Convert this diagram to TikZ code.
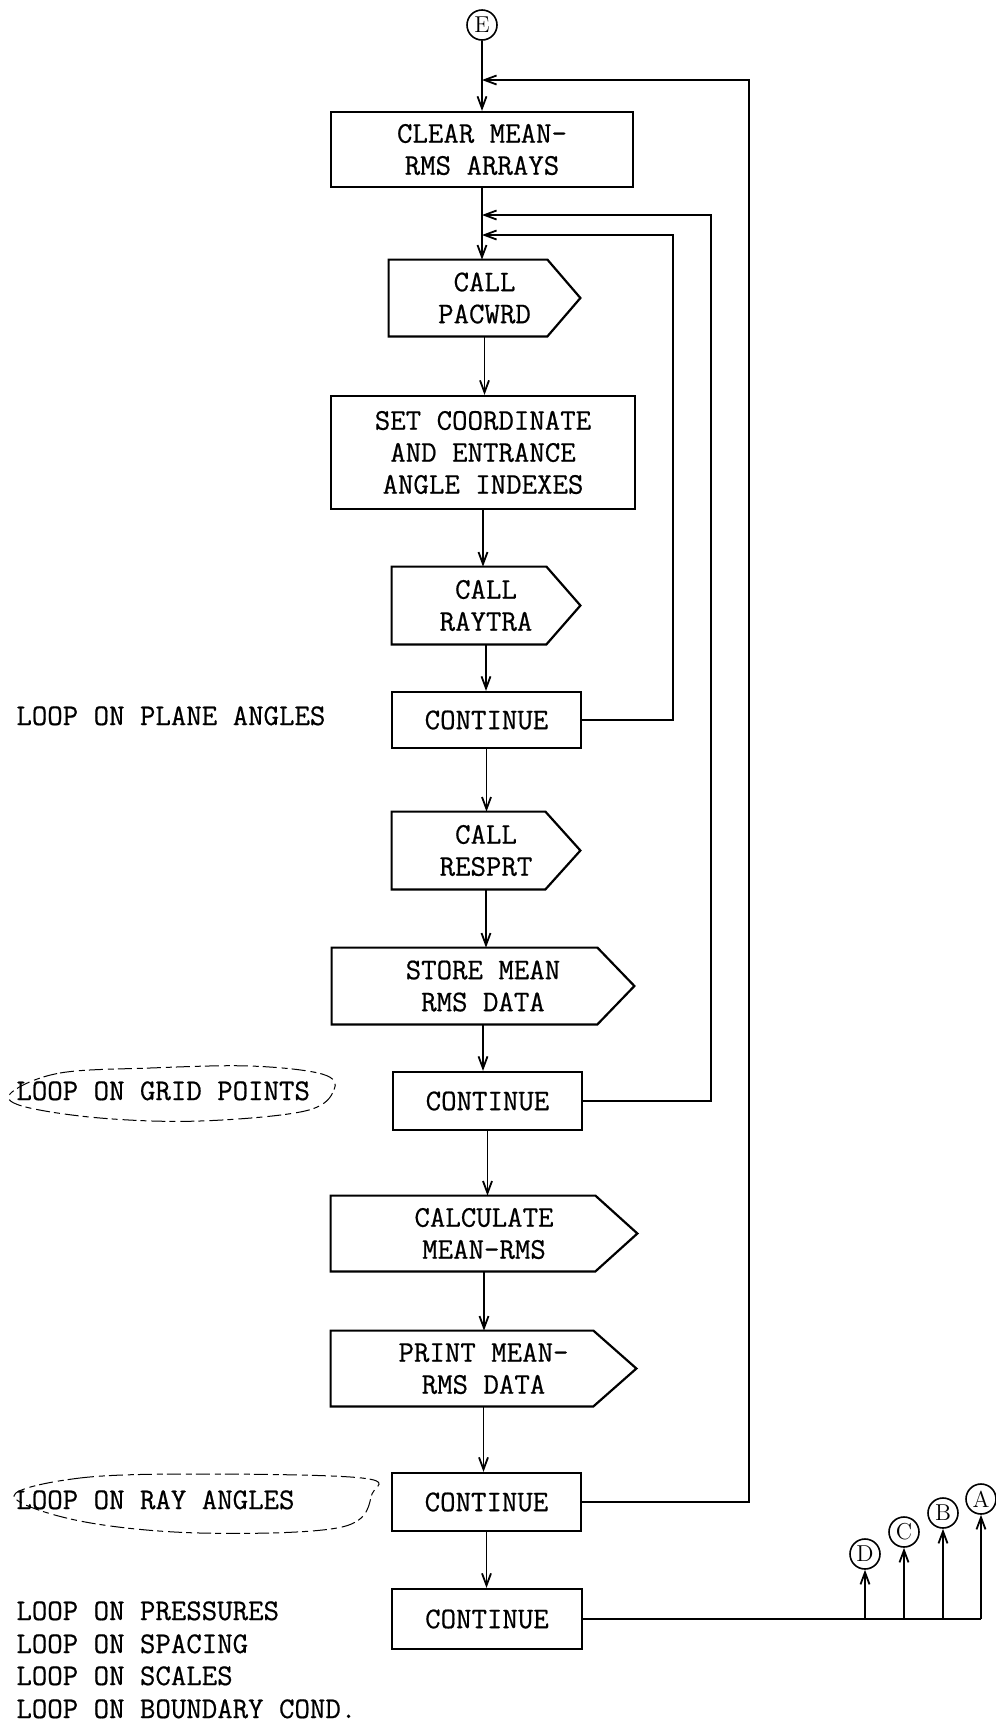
\documentclass[tikz,border=0pt]{standalone}
\usepackage{fontspec}
\setmonofont{Latin Modern Mono}[FakeBold=0.6]
\usetikzlibrary{arrows.meta,calc}
\newcommand\tw{\ttfamily\fontsize{15}{16}\selectfont}
\newcommand\pentline[2]{\draw[line width=1.1pt] (#1.north west) -- ([xshift=-#2]#1.north east) -- (#1.east) -- ([xshift=-#2]#1.south east) -- (#1.south west) -- cycle;}
\tikzset{
  box/.style={draw, line width=1.1pt, rectangle, inner sep=0pt, font=\tw, align=center},
  pent/.style={rectangle, inner sep=0pt, font=\tw, align=center},
  conn/.style={line width=0.9pt, -{Straight Barb[length=6pt,width=4.5pt]}},
  plain/.style={line width=0.9pt},
  con/.style={circle, draw, line width=0.8pt, minimum size=15pt, inner sep=0pt, font=\rmfamily\fontsize{11.5}{11.5}\selectfont},
  lbl/.style={anchor=base west, font=\tw, inner sep=0pt},
  scrib/.style={line width=0.5pt, dash pattern=on 7pt off 2.5pt on 3pt off 2pt},
}
\begin{document}
\begin{tikzpicture}[x=0.5pt,y=-0.5pt]
\useasboundingbox (0,0) rectangle (996,1725);
% nodes
\node[con] (E) at (482,25) {E};
\node[box, minimum width=151pt, minimum height=37.5pt] (clear) at (482,149.5) {CLEAR MEAN-\\RMS ARRAYS};
\node[pent, minimum width=95.5pt, minimum height=38pt] (pacwrd) at (484.5,298) {CALL\\PACWRD};
\node[box, minimum width=152pt, minimum height=56.5pt] (setc) at (483,452.5) {SET COORDINATE\\AND ENTRANCE\\ANGLE INDEXES};
\node[pent, minimum width=94pt, minimum height=38.5pt] (raytra) at (486,605.5) {CALL\\RAYTRA};
\node[box, minimum width=94.5pt, minimum height=28pt] (cont1) at (486.5,720) {CONTINUE};
\node[pent, minimum width=94pt, minimum height=38.5pt] (resprt) at (486,850.5) {CALL\\RESPRT};
\node[pent, minimum width=151pt, minimum height=38pt] (store) at (483,986) {STORE MEAN\\RMS DATA};
\node[box, minimum width=94.5pt, minimum height=29pt] (cont2) at (487.5,1101) {CONTINUE};
\node[pent, minimum width=153pt, minimum height=37.5pt] (calc) at (484,1233.5) {CALCULATE\\MEAN-RMS};
\node[pent, minimum width=152.5pt, minimum height=37.5pt] (print) at (483.5,1368.5) {PRINT MEAN-\\RMS DATA};
\node[box, minimum width=94.5pt, minimum height=29pt] (cont3) at (486.5,1502) {CONTINUE};
\node[box, minimum width=95pt, minimum height=30pt] (cont4) at (487,1619) {CONTINUE};
\pentline{pacwrd}{16.5pt}
\pentline{raytra}{17pt}
\pentline{resprt}{17.5pt}
\pentline{store}{18.5pt}
\pentline{calc}{21pt}
\pentline{print}{21.5pt}
% off-page connectors
\node[con] (D) at (865,1554) {D};
\node[con] (C) at (904,1532) {C};
\node[con] (B) at (943,1513) {B};
\node[con] (A) at (981,1499) {A};
% left labels
\node[lbl] (l1) at (16,725) {LOOP ON PLANE ANGLES};
\node[lbl] (l2) at (16,1100) {LOOP ON GRID POINTS};
\node[lbl] (l3) at (16,1509) {LOOP ON RAY ANGLES};
\node[lbl] (l4) at (16,1620) {LOOP ON PRESSURES};
\node[lbl] (l5) at (16,1653) {LOOP ON SPACING};
\node[lbl] (l6) at (16,1685) {LOOP ON SCALES};
\node[lbl] (l7) at (16,1718) {LOOP ON BOUNDARY COND.};
% scribbled outlines
\draw[scrib] plot[smooth cycle, tension=0.6] coordinates {(12,1092) (60,1073) (150,1068) (250,1066) (322,1074) (334,1090) (305,1111) (200,1121) (100,1118) (22,1106)};
\draw[scrib] plot[smooth cycle, tension=0.6] coordinates {(14,1496) (80,1478) (200,1474) (362,1478) (372,1494) (342,1527) (200,1533) (80,1521)};
% junction coordinates
\coordinate (j1) at (482,80);
\coordinate (j2) at (482,215);
\coordinate (j3) at (482,235);
\coordinate (r1) at (673,0);
\coordinate (r2) at (711,0);
\coordinate (r3) at (749,0);
% main flow
\draw[conn] (E) -- (E |- clear.north);
\draw[conn] (clear.south) -- (clear.south |- pacwrd.north);
\draw[conn] (pacwrd.south) -- (pacwrd.south |- setc.north);
\draw[conn] (setc.south) -- (setc.south |- raytra.north);
\draw[conn] (raytra.south) -- (raytra.south |- cont1.north);
\draw[conn] (cont1.south) -- (cont1.south |- resprt.north);
\draw[conn] (resprt.south) -- (resprt.south |- store.north);
\draw[conn] (store.south) -- (store.south |- cont2.north);
\draw[conn] (cont2.south) -- (cont2.south |- calc.north);
\draw[conn] (calc.south) -- (calc.south |- print.north);
\draw[conn] (print.south) -- (print.south |- cont3.north);
\draw[conn] (cont3.south) -- (cont3.south |- cont4.north);
% loops
\draw[conn] (cont1.east) -| (r1 |- j3) -- (j3);
\draw[conn] (cont2.east) -| (r2 |- j2) -- (j2);
\draw[conn] (cont3.east) -| (r3 |- j1) -- (j1);
% exits
\draw[plain] (cont4.east) -- (cont4.east -| A);
\draw[conn] (cont4.east -| D) -- (D.south);
\draw[conn] (cont4.east -| C) -- (C.south);
\draw[conn] (cont4.east -| B) -- (B.south);
\draw[conn] (cont4.east -| A) -- (A.south);
\end{tikzpicture}
\end{document}
